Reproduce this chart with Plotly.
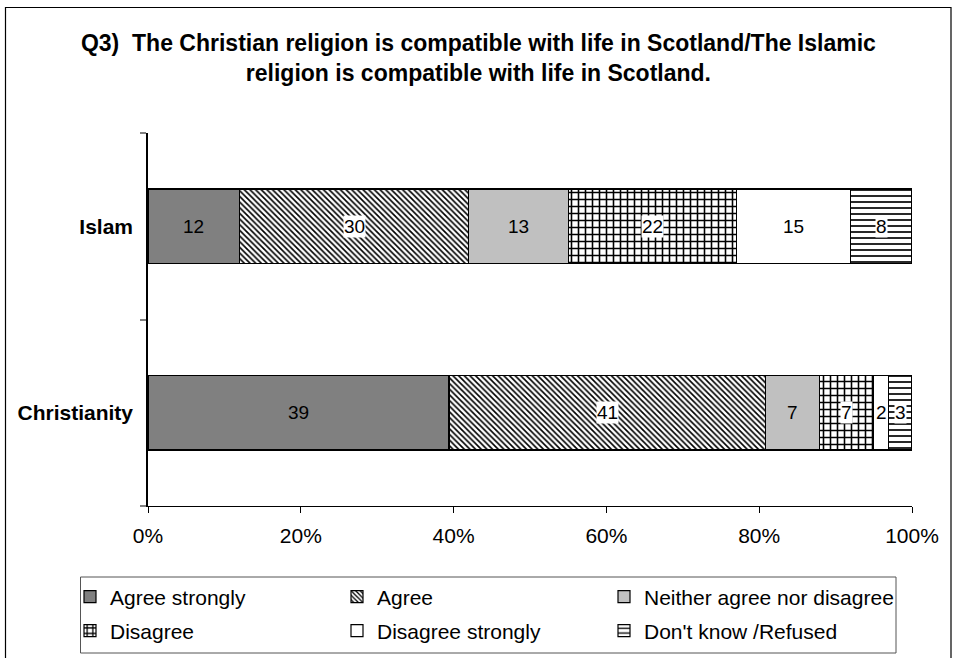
import plotly.graph_objects as go

# Survey responses (percent of respondents) per religion
categories = ["Christianity", "Islam"]
responses = ["Agree strongly", "Agree", "Neither agree nor disagree",
             "Disagree", "Disagree strongly", "Don't know /Refused"]
christianity = [39, 41, 7, 7, 2, 3]
islam = [12, 30, 13, 22, 15, 8]
x_ticks = [0, 20, 40, 60, 80, 100]

W, H = 953, 658
L, R, T, B = 148, 912, 133, 506  # plot area in pixels

# fill style for each response: (colour, pattern shape, pattern size, solidity)
styles = [
    ("#808080", "", 8, 0.3),
    ("white", "\\", 4, 0.4),
    ("#C0C0C0", "", 8, 0.3),
    ("white", "+", 7, 0.4),
    ("white", "", 8, 0.3),
    ("white", "-", 6, 0.28),
]

# legend grid: three columns, two rows (left edge / vertical centre, in pixels)
legend_cols = [70, 337, 604]
legend_rows = [597, 631]

font_family = "Liberation Sans, Arial, sans-serif"

fig = go.Figure()
legend_layouts = {}
for i, name in enumerate(responses):
    color, shape, size, solid = styles[i]
    pattern = dict(shape=shape, size=size, solidity=solid, fgcolor="black",
                   bgcolor="white", fillmode="replace") if shape else dict(shape="")
    legend_id = "legend" if i == 0 else f"legend{i + 1}"
    fig.add_trace(go.Bar(
        name=name,
        y=categories,
        x=[christianity[i], islam[i]],
        orientation="h",
        marker=dict(color=color, line=dict(color="black", width=1.2), pattern=pattern),
        legend=legend_id,
        showlegend=True,
        hoverinfo="skip",
    ))
    legend_layouts[legend_id] = dict(
        orientation="h",
        x=legend_cols[i % 3] / W, y=1 - legend_rows[i // 3] / H,
        xref="container", yref="container", xanchor="left", yanchor="middle",
        font=dict(family=font_family, size=21, color="black"),
        bgcolor="rgba(0,0,0,0)", borderwidth=0,
    )

# value labels centred in each segment (bars are normalised to 100%)
annotations = []
for cat, vals in zip(categories, [christianity, islam]):
    total = sum(vals)
    cum = 0
    for i, v in enumerate(vals):
        pct = v / total * 100
        mid = cum + pct / 2
        cum += pct
        patterned = styles[i][1] != ""
        annotations.append(dict(
            x=mid, y=cat, xref="x", yref="y", text=str(v), showarrow=False,
            font=dict(family=font_family, size=19, color="black"),
            bgcolor="white" if patterned else "rgba(0,0,0,0)", borderpad=0,
        ))

def px_x(p):
    return (p - L) / (R - L)

def px_y(p):
    return (B - p) / (B - T)

shapes = [
    # chart border
    dict(type="rect", xref="paper", yref="paper",
         x0=px_x(5.5), x1=px_x(951), y0=px_y(700), y1=px_y(7.5),
         line=dict(color="black", width=1.2), fillcolor="rgba(0,0,0,0)", layer="below"),
    # legend frame
    dict(type="rect", xref="paper", yref="paper",
         x0=px_x(80.5), x1=px_x(896), y0=px_y(653), y1=px_y(577),
         line=dict(color="#555555", width=1), fillcolor="rgba(0,0,0,0)", layer="below"),
]

fig.update_layout(
    width=W, height=H,
    margin=dict(l=L, r=W - R, t=T, b=H - B),
    paper_bgcolor="white", plot_bgcolor="white",
    showlegend=True,
    barmode="stack", barnorm="percent", bargap=0.6,
    title=dict(
        text="Q3)  The Christian religion is compatible with life in Scotland/The Islamic<br>"
             "religion is compatible with life in Scotland.",
        x=0.502, xanchor="center", xref="container",
        y=1 - 51 / H, yanchor="top", yref="container",
        font=dict(family=font_family, size=23, color="black", weight="bold"),
    ),
    xaxis=dict(
        range=[0, 100], tickvals=x_ticks, ticktext=[f"{t}%" for t in x_ticks],
        showgrid=False, zeroline=False, showline=True, linecolor="black", linewidth=1.2,
        ticks="outside", ticklen=6, tickcolor="black", tickwidth=1,
        ticklabelstandoff=5,
        tickfont=dict(family=font_family, size=21, color="black"),
        fixedrange=True,
    ),
    yaxis=dict(
        categoryorder="array", categoryarray=categories,
        showgrid=False, zeroline=False, showline=True, linecolor="black", linewidth=1.5,
        ticks="outside", ticklen=6, tickcolor="#808080", tickwidth=2,
        tickson="boundaries", ticklabelstandoff=9,
        tickfont=dict(family=font_family, size=21, color="black", weight="bold"),
        fixedrange=True,
    ),
    annotations=annotations,
    shapes=shapes,
    **legend_layouts,
)

fig.write_html("out.html")
